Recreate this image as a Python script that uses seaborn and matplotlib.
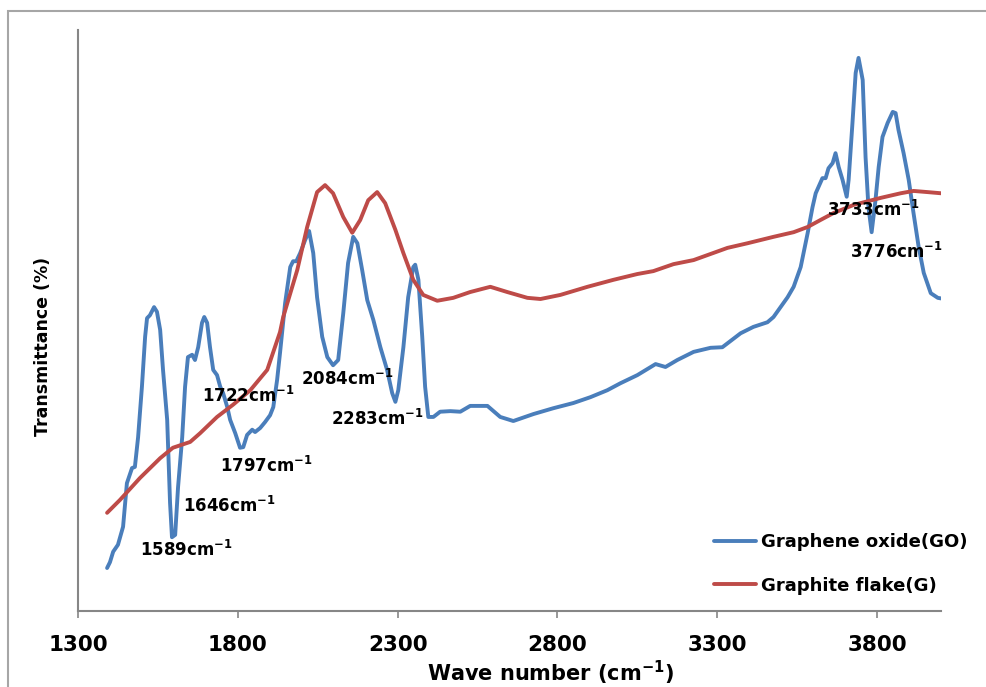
import numpy as np
import pandas as pd
import matplotlib
matplotlib.use("Agg")
import matplotlib.pyplot as plt
import matplotlib.patches as mpatches
import seaborn as sns

# ---- data (y is an arbitrary transmittance scale) ----
go_x = [1391, 1400, 1410, 1425, 1441, 1453, 1469, 1478, 1488, 1500, 1510, 1516, 1525, 1538,
        1547, 1557, 1566, 1579, 1588, 1594, 1604, 1613, 1626, 1635, 1644, 1657, 1666, 1676,
        1688, 1695, 1704, 1713, 1723, 1735, 1745, 1754, 1767, 1776, 1792, 1807, 1817, 1829,
        1845, 1854, 1870, 1885, 1901, 1911, 1923, 1932, 1948, 1964, 1973, 1983, 1995, 2011,
        2023, 2036, 2048, 2064, 2080, 2098, 2114, 2130, 2145, 2161, 2174, 2189, 2205, 2224,
        2246, 2267, 2283, 2293, 2302, 2318, 2333, 2349, 2355, 2365, 2377, 2386, 2396, 2412,
        2433, 2465, 2496, 2527, 2581, 2621, 2662, 2725, 2787, 2850, 2903, 2956, 2997, 3050,
        3107, 3138, 3175, 3226, 3279, 3316, 3373, 3413, 3457, 3476, 3520, 3539, 3561, 3583,
        3598, 3608, 3617, 3629, 3639, 3648, 3661, 3670, 3680, 3692, 3705, 3711, 3723, 3733,
        3742, 3755, 3764, 3773, 3783, 3795, 3805, 3817, 3833, 3849, 3858, 3867, 3883, 3899,
        3914, 3930, 3946, 3968, 3990, 4000]
go_y = [7.4, 8.4, 10.2, 11.4, 14.5, 22.0, 24.6, 24.8, 29.9, 38.6, 47.2, 50.4, 50.9, 52.3,
        51.5, 48.4, 41.5, 32.9, 18.6, 12.7, 13.1, 21.3, 29.9, 38.6, 43.7, 44.1, 43.2, 45.4,
        49.6, 50.6, 49.6, 45.4, 41.5, 40.6, 38.6, 37.5, 35.1, 32.9, 30.6, 28.1, 28.2, 30.3,
        31.2, 30.8, 31.5, 32.5, 33.7, 35.1, 39.8, 44.4, 53.0, 59.2, 60.2, 60.2, 61.6, 63.9,
        65.4, 61.6, 54.0, 47.2, 43.7, 42.3, 43.2, 51.3, 59.9, 64.4, 63.3, 58.7, 53.5, 50.1,
        45.4, 41.5, 37.5, 36.0, 38.0, 45.4, 54.0, 59.2, 59.6, 57.0, 47.2, 38.6, 33.4, 33.4,
        34.3, 34.4, 34.3, 35.3, 35.3, 33.4, 32.7, 33.9, 34.9, 35.8, 36.8, 38.0, 39.2, 40.6,
        42.5, 42.0, 43.2, 44.6, 45.3, 45.4, 47.8, 48.9, 49.7, 50.6, 54.0, 55.8, 59.2, 65.1,
        69.5, 71.9, 73.0, 74.5, 74.5, 76.2, 77.1, 78.8, 76.4, 74.2, 71.3, 74.2, 84.0, 92.6,
        95.2, 91.4, 78.1, 69.5, 65.2, 70.7, 76.4, 81.6, 84.0, 85.9, 85.7, 82.8, 78.8, 74.2,
        68.5, 62.7, 58.2, 54.7, 53.9, 53.8]

g_x = [1391, 1431, 1494, 1557, 1597, 1651, 1682, 1735, 1785, 1839, 1892, 1932, 1942, 1986,
       2017, 2048, 2073, 2098, 2130, 2158, 2183, 2208, 2236, 2261, 2293, 2318, 2349, 2380,
       2424, 2474, 2527, 2590, 2643, 2706, 2747, 2809, 2894, 2975, 3050, 3100, 3163, 3226,
       3332, 3395, 3476, 3539, 3583, 3623, 3664, 3727, 3811, 3874, 3914, 3958, 4000]
g_y = [16.9, 19.1, 22.9, 26.3, 28.1, 29.1, 30.6, 33.4, 35.5, 38.0, 41.5, 48.0, 50.6, 58.7,
       66.1, 72.1, 73.3, 71.9, 67.8, 65.1, 67.3, 70.7, 72.1, 70.2, 65.6, 61.6, 57.0, 54.4,
       53.4, 53.9, 54.9, 55.8, 54.9, 53.9, 53.7, 54.4, 55.8, 57.0, 58.0, 58.5, 59.7, 60.4,
       62.5, 63.3, 64.4, 65.2, 66.1, 67.3, 68.5, 69.9, 71.1, 71.9, 72.3, 72.1, 71.9]

series_names = ["Graphene oxide(GO)", "Graphite flake(G)"]
x_ticks = [1300, 1800, 2300, 2800, 3300, 3800]

peak_labels = ["1589", "1646", "1797", "1722", "2084", "2283", "3733", "3776"]
# label anchor (left edge x in wavenumber, y in data units)
peak_label_x = [1494, 1629, 1745, 1688, 1999, 2093, 3642, 3714]
peak_label_y = [10.5, 18.0, 25.0, 37.0, 40.0, 33.0, 69.0, 61.8]

df = pd.concat([
    pd.DataFrame({"x": go_x, "y": go_y, "series": series_names[0]}),
    pd.DataFrame({"x": g_x, "y": g_y, "series": series_names[1]}),
], ignore_index=True)

sns.set_style("white")
plt.rcParams["font.family"] = ["DejaVu Sans"]
plt.rcParams["mathtext.fontset"] = "dejavusans"
plt.rcParams["text.color"] = "black"
plt.rcParams["axes.labelcolor"] = "black"
plt.rcParams["xtick.color"] = "black"

fig = plt.figure(figsize=(9.87, 6.87), dpi=100)
ax = fig.add_axes([78 / 987, 1 - 611 / 687, (941 - 78) / 987, (611 - 30) / 687])

palette = {series_names[0]: "#4A7EBB", series_names[1]: "#BE4B48"}
sns.lineplot(data=df, x="x", y="y", hue="series", palette=palette, ax=ax,
             estimator=None, sort=False, linewidth=2.8, legend=True)

ax.set_xlim(1300, 4000)
ax.set_ylim(0, 100)
ax.set_xticks(x_ticks)
ax.set_xticklabels([str(t) for t in x_ticks], fontsize=15.5, fontweight="bold", color="black")
ax.set_yticks([])
ax.tick_params(axis="x", direction="out", length=5, width=1.2, color="#868686", pad=12,
               bottom=True)

for side in ["top", "right"]:
    ax.spines[side].set_visible(False)
for side in ["left", "bottom"]:
    ax.spines[side].set_color("#868686")
    ax.spines[side].set_linewidth(1.5)

ax.set_xlabel("Wave number (cm$^{\\mathbf{-1}}$)", fontsize=15, fontweight="bold", color="black")
ax.xaxis.set_label_coords(0.547, -0.082)
ax.set_ylabel("Transmittance (%)", fontsize=12.5, fontweight="bold", color="black")
ax.yaxis.set_label_coords(-0.03, 0.456)

for lab, lx, ly in zip(peak_labels, peak_label_x, peak_label_y):
    ax.text(lx, ly, lab + "cm$^{\\mathbf{-1}}$", fontsize=12, fontweight="bold",
            ha="left", va="center", color="black")

leg = ax.legend(loc="lower right", bbox_to_anchor=(1.05, 0.0), frameon=False,
                handlelength=2.3, handletextpad=0.3, labelspacing=1.4,
                prop={"weight": "bold", "size": 13})
for txt in leg.get_texts():
    txt.set_color("black")
for line in leg.get_lines():
    line.set_linewidth(2.8)

border = mpatches.Rectangle((8 / 987, -0.1), 1.2, (1 - 11 / 687) + 0.1,
                            transform=fig.transFigure, fill=False,
                            edgecolor="#a6a6a6", linewidth=1.5, clip_on=False)
fig.patches.append(border)

fig.savefig("out.png", dpi=100)
